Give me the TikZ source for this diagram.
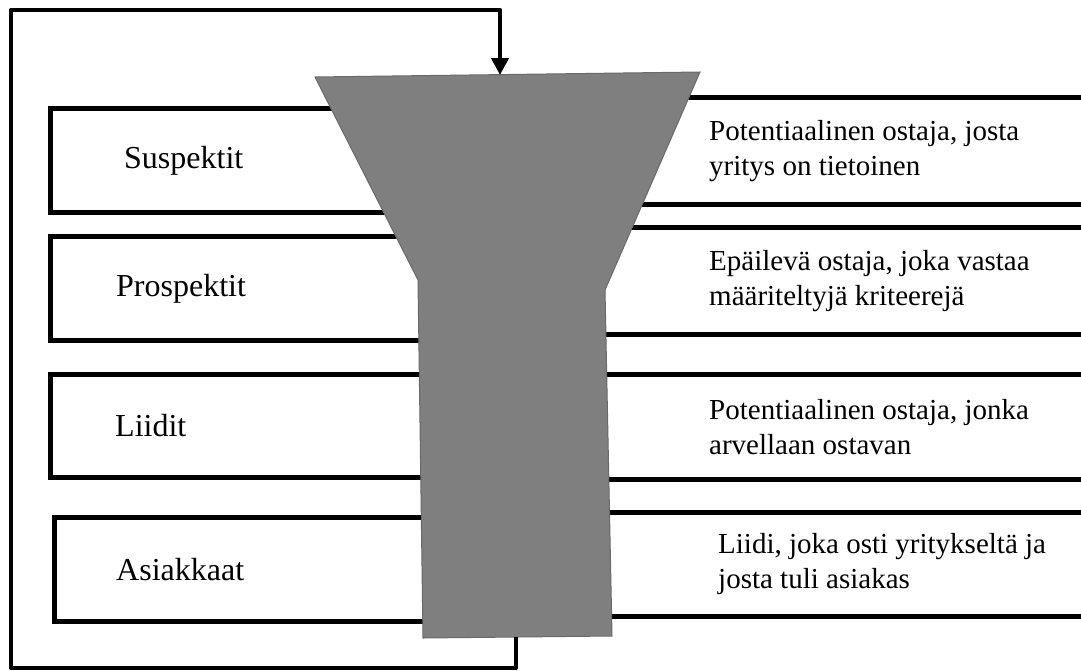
\documentclass[tikz,border=0pt]{standalone}
\usepackage{fontspec}
\setmainfont{Liberation Serif}
\definecolor{funnelGray}{RGB}{127,127,127}
\definecolor{funnelEdge}{RGB}{105,105,105}
\usepackage{tikz}
\usetikzlibrary{arrows.meta,positioning}

\begin{document}
\begin{tikzpicture}[x=1pt, y=-1pt,
    stage/.style={draw, line width=5pt, fill=white, anchor=north west,
      minimum width=402pt, minimum height=104pt, inner sep=0pt},
    desc/.style={draw, line width=5pt, fill=white, anchor=north west,
      minimum width=540pt, minimum height=107pt, inner sep=0pt},
    lab/.style={font=\fontsize{32}{38}\selectfont, inner sep=0pt},
    note/.style={font=\fontsize{29}{35}\selectfont, align=left, inner sep=0pt},
    funnel/.style={fill=funnelGray, draw=funnelEdge, line width=1pt},
    loopline/.style={line width=4.5pt, line join=round},
    >={Triangle[length=17pt,width=17pt]}
  ]
  \useasboundingbox (0,0) rectangle (1081,670);
  \clip (0,0) rectangle (1081,670);

  % left boxes
  \node[stage] (s1) at (48,106) {};
  \node[stage] (s2) at (48,234) {};
  \node[stage, minimum height=103pt] (s3) at (48,372) {};
  \node[stage, minimum width=398pt] (s4) at (52,515) {};
  \node[lab, right=76pt of s1.west] (l1) {Suspektit};
  \node[lab, right=68pt of s2.west] (l2) {Prospektit};
  \node[lab, right=67pt of s3.west] (l3) {Liidit};
  \node[lab, right=64pt of s4.west] (l4) {Asiakkaat};

  % right boxes
  \node[desc] (r1) at (560,95) {};
  \node[desc] (r2) at (560,225) {};
  \node[desc, minimum height=105pt] (r3) at (560,372) {};
  \node[desc, minimum height=104pt] (r4) at (560,510) {};
  \node[note, right=149pt of r1.west] (t1) {Potentiaalinen ostaja, josta\\yritys on tietoinen};
  \node[note, right=149pt of r2.west] (t2) {Epäilevä ostaja, joka vastaa\\määriteltyjä kriteerejä};
  \node[note, right=149pt of r3.west] (t3) {Potentiaalinen ostaja, jonka\\arvellaan ostavan};
  \node[note, right=158pt of r4.west] (t4) {Liidi, joka osti yritykseltä ja\\josta tuli asiakas};

  % funnel
  \filldraw[funnel] (315,77) -- (700,72) -- (605,290) -- (612,636)
    -- (423,638) -- (418,280) -- cycle;
  \coordinate (ftop) at (500,75);
  \coordinate (fbot) at (516,637);

  % feedback loop
  \coordinate (c1) at (11,668);
  \coordinate (c2) at (11,10);
  \draw[loopline,->] (fbot) |- (c1) -- (c2) -| (ftop);
\end{tikzpicture}
\end{document}
